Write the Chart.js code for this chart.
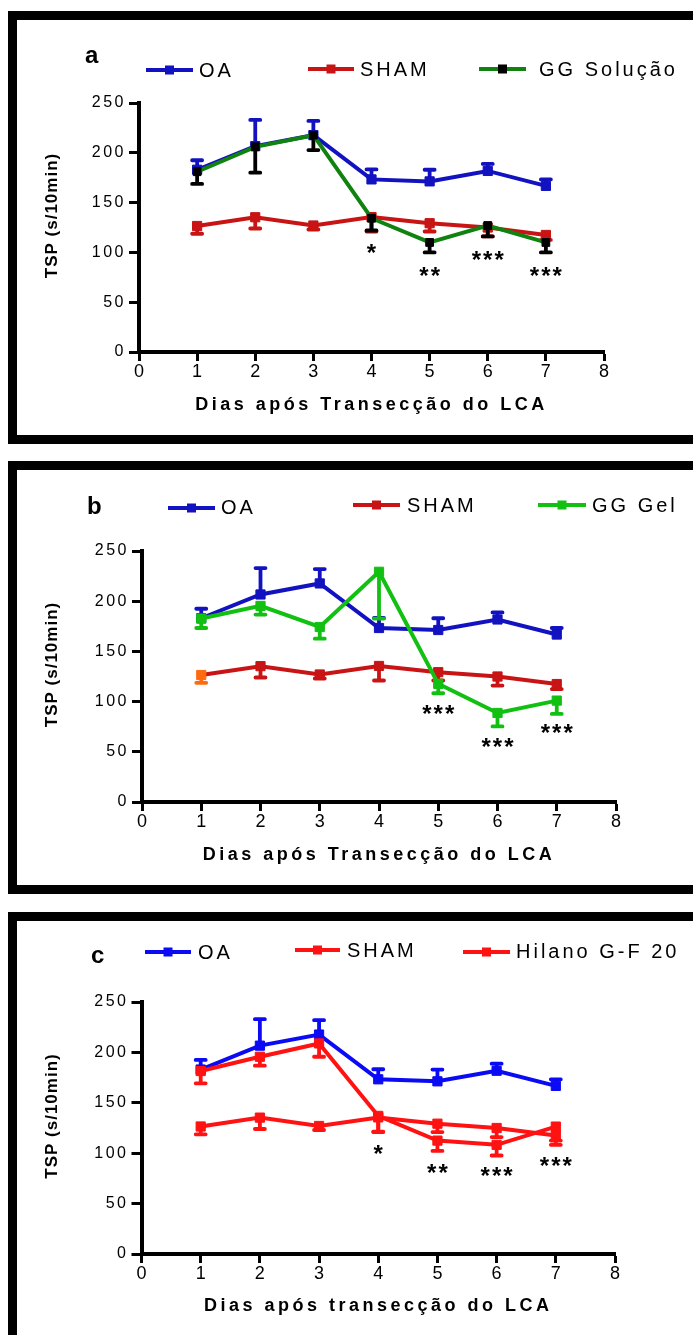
<!DOCTYPE html>
<html lang="pt">
<head>
<meta charset="utf-8">
<title>TSP (s/10min) - Dias após transecção do LCA</title>
<script src="https://cdn.jsdelivr.net/npm/chart.js@4.4.1/dist/chart.umd.min.js"></script>
<style>
  html, body { margin: 0; padding: 0; background: #fff; }
  body { width: 693px; height: 1335px; position: relative; overflow: hidden; }
  canvas { position: absolute; left: 0; }
  .moldura { position: absolute; left: 8px; width: 740px; border: 9px solid #000; box-sizing: border-box; pointer-events: none; z-index: 2; }
</style>
</head>
<body>
<canvas id="graficoA" width="693" height="414" style="top:20px;width:693px;height:414px"></canvas>
<canvas id="graficoB" width="693" height="414" style="top:470px;width:693px;height:414px"></canvas>
<canvas id="graficoC" width="693" height="413" style="top:922px;width:693px;height:413px"></canvas>
<div class="moldura" style="top:11px;height:433px"></div>
<div class="moldura" style="top:461px;height:433px"></div>
<div class="moldura" style="top:912px;height:500px"></div>

<script>
// dados (media e erro padrao em s/10min)
const dias = [1, 2, 3, 4, 5, 6, 7];
const ticksX = [0, 1, 2, 3, 4, 5, 6, 7, 8];
const ticksY = [0, 50, 100, 150, 200, 250];

const mediaOA = [183, 206.7, 217.7, 173.3, 171.3, 181.8, 166.8];
const erroOA = [9.5, 26.3, 14.3, 10, 11.7, 7, 6.5];

const mediaSHAM = [126.5, 135.3, 127, 135.5, 129.3, 125, 117.5];
const erroSHAM = [7.8, 11.3, 4, 14.5, 8.3, 9, 5];

const mediaGGSolucao = [181, 206, 217.7, 134.3, 110, 127, 110];
const erroGGSolucao = [12.3, 26, 15, 12.3, 10, 11, 10];

const mediaGGGel = [182.7, 195.3, 174.3, 229.3, 117.7, 88.7, 101];
const erroGGGel = [9.4, 8.6, 11.6, 46.6, 9.4, 13.4, 13.3];

const mediaHilano = [181.5, 195.7, 208.9, 137, 112.5, 108.3, 126.4];
const erroHilano = [12.2, 8.9, 13.2, 15.5, 10.2, 10.6, 18.1];

// asteriscos de significancia (dia, texto, altura no eixo y)
const diasSigA = [4, 5, 6, 7];
const rotulosSigA = ['*', '**', '***', '***'];
const alturaSigA = [104, 81, 97.7, 81];

const diasSigB = [5, 6, 7];
const rotulosSigB = ['***', '***', '***'];
const alturaSigB = [92.3, 59.3, 73.3];

const diasSigC = [4, 5, 6, 7];
const rotulosSigC = ['*', '**', '***', '***'];
const alturaSigC = [104, 85, 82.8, 92.7];

const nomesA = ['OA', 'SHAM', 'GG Solução'];
const nomesB = ['OA', 'SHAM', 'GG Gel'];
const nomesC = ['OA', 'SHAM', 'Hilano G-F 20'];

const tituloY = 'TSP (s/10min)';
const tituloXA = 'Dias após Transecção do LCA';
const tituloXB = 'Dias após Transecção do LCA';
const tituloXC = 'Dias após transecção do LCA';

const FONTE = "'Liberation Sans', Arial, Helvetica, sans-serif";
const FONTE_ESTREITA = "'Liberation Sans Narrow', 'Liberation Sans', Arial, sans-serif";

/**
 * desenha as barras de erro de cada serie logo antes da propria serie
 */
const pluginBarrasErro = {
    id: 'barrasErro',
    beforeDatasetDraw(chart, args) {
        const ds = chart.data.datasets[args.index];
        if (!ds.erros) return;
        const ctx = chart.ctx;
        const escalaY = chart.scales.y;
        ctx.save();
        ctx.lineWidth = 3.8;
        ctx.lineCap = 'round';
        args.meta.data.forEach((ponto, i) => {
            const fim = escalaY.getPixelForValue(ds.data[i].y + ds.direcaoErro * ds.erros[i]);
            ctx.strokeStyle = Array.isArray(ds.corErro) ? ds.corErro[i] : ds.corErro;
            ctx.beginPath();
            ctx.moveTo(ponto.x, ponto.y);
            ctx.lineTo(ponto.x, fim);
            ctx.moveTo(ponto.x - 5, fim);
            ctx.lineTo(ponto.x + 5, fim);
            ctx.stroke();
        });
        ctx.restore();
    }
};

const pluginAsteriscos = {
    id: 'asteriscos',
    afterDatasetsDraw(chart, args, op) {
        if (!op.dias) return;
        const ctx = chart.ctx;
        const { x, y } = chart.scales;
        ctx.save();
        ctx.font = 'bold 24px ' + FONTE;
        ctx.letterSpacing = '2px';
        ctx.fillStyle = '#000';
        ctx.textAlign = 'center';
        ctx.textBaseline = 'alphabetic';
        op.dias.forEach((d, i) => {
            // o centro do asterisco fica ~0.55em acima da linha de base
            ctx.fillText(op.rotulos[i], x.getPixelForValue(d) + 1, y.getPixelForValue(op.alturas[i]) + 13);
        });
        ctx.restore();
    }
};

/**
 * legenda de cada painel: letra do painel + linha com marcador + nome
 */
const pluginLegenda = {
    id: 'legendaPainel',
    afterDraw(chart, args, op) {
        if (!op.itens) return;
        const ctx = chart.ctx;
        ctx.save();
        ctx.textAlign = 'left';
        ctx.textBaseline = 'alphabetic';
        ctx.fillStyle = '#000';
        ctx.letterSpacing = '0px';
        ctx.font = 'bold 24px ' + FONTE;
        ctx.fillText(op.letra, op.letraX, op.letraY);
        ctx.font = '20px ' + FONTE;
        ctx.letterSpacing = '3px';
        chart.data.datasets.forEach((ds, i) => {
            const item = op.itens[i];
            ctx.strokeStyle = ds.borderColor;
            ctx.lineWidth = 4;
            ctx.beginPath();
            ctx.moveTo(item.x1, item.y);
            ctx.lineTo(item.x2, item.y);
            ctx.stroke();
            const meio = (item.x1 + item.x2) / 2;
            ctx.fillStyle = ds.corLegenda || ds.borderColor;
            ctx.fillRect(meio - 4.5, item.y - 4.5, 9, 9);
            ctx.fillStyle = '#000';
            ctx.fillText(ds.label, item.textoX, item.textoY);
        });
        ctx.restore();
    }
};

// espacamento entre letras nos titulos e rotulos dos eixos
function envolver(escala, metodo, espaco, deslocY) {
    if (escala['_orig_' + metodo]) return;
    const original = escala[metodo];
    escala['_orig_' + metodo] = original;
    escala[metodo] = function (...a) {
        const ctx = this.ctx;
        ctx.save();
        ctx.letterSpacing = espaco;
        ctx.translate(0, deslocY);
        original.apply(this, a);
        ctx.restore();
    };
}

const pluginEspacamento = {
    id: 'espacamento',
    afterLayout(chart) {
        envolver(chart.scales.x, 'drawTitle', '3.5px', 0);
        envolver(chart.scales.x, 'drawLabels', '0px', 0);
        envolver(chart.scales.y, 'drawTitle', '1px', -12);
        envolver(chart.scales.y, 'drawLabels', '2.5px', 0);
    }
};

function serie(rotulo, medias, erros, direcao, cor, extra) {
    return Object.assign({
        label: rotulo,
        data: dias.map((d, i) => ({ x: d, y: medias[i] })),
        erros: erros,
        direcaoErro: direcao,
        corErro: cor,
        borderColor: cor,
        backgroundColor: cor,
        pointBackgroundColor: cor,
        pointBorderColor: cor,
        borderWidth: 4,
        pointStyle: 'rect',
        pointRadius: 6.5,
        pointBorderWidth: 1,
        tension: 0,
        clip: false
    }, extra);
}

function criarPainel(id, p) {
    const canvas = document.getElementById(id);
    return new Chart(canvas, {
        type: 'line',
        data: { datasets: p.series },
        options: {
            responsive: false,
            animation: false,
            devicePixelRatio: 1,
            events: [],
            layout: { padding: { top: p.topo, right: 693 - p.direita, bottom: 0, left: 0 } },
            scales: {
                x: {
                    type: 'linear',
                    min: 0,
                    max: 8,
                    afterBuildTicks: (s) => { s.ticks = ticksX.map(v => ({ value: v })); },
                    afterFit: (s) => { s.height = canvas.height - 332; },
                    grid: { drawOnChartArea: false, drawTicks: true, tickLength: 9, tickWidth: 3, tickColor: '#000' },
                    border: { display: true, color: '#000', width: 4 },
                    ticks: { color: '#000', font: { family: FONTE_ESTREITA, size: 18 }, padding: 0, maxRotation: 0, autoSkip: false },
                    title: { display: true, text: p.tituloX, color: '#000', font: { family: FONTE, size: 18, weight: 'bold' }, padding: { top: 0, bottom: 18 } }
                },
                y: {
                    min: 0,
                    max: 250,
                    afterBuildTicks: (s) => { s.ticks = ticksY.map(v => ({ value: v })); },
                    afterFit: (s) => { s.width = p.esquerda; },
                    grid: { drawOnChartArea: false, drawTicks: true, tickLength: 10, tickWidth: 3, tickColor: '#000' },
                    border: { display: true, color: '#000', width: 4 },
                    ticks: { color: '#000', font: { family: FONTE, size: 16 }, padding: 3 },
                    title: { display: true, text: tituloY, color: '#000', font: { family: FONTE, size: 17, weight: 'bold' }, padding: { top: 42, bottom: 0 } }
                }
            },
            plugins: {
                legend: { display: false },
                tooltip: { enabled: false },
                asteriscos: { dias: p.sigDias, rotulos: p.sigRotulos, alturas: p.sigAlturas },
                legendaPainel: { letra: p.letra, letraX: p.letraX, letraY: p.letraY, itens: p.itens }
            }
        },
        plugins: [pluginEspacamento, pluginBarrasErro, pluginAsteriscos, pluginLegenda]
    });
}

const AZUL = '#1212c0';
const VERMELHO = '#c81414';
const VERDE_ESCURO = '#0f820f';
const VERDE = '#12c012';
const LARANJA = '#ff6a10';
const AZUL_VIVO = '#0a0af5';
const VERMELHO_VIVO = '#ff1212';

criarPainel('graficoA', {
    esquerda: 139, direita: 604, topo: 83,
    tituloX: tituloXA,
    letra: 'a', letraX: 85, letraY: 43,
    itens: [
        { x1: 146, x2: 193, y: 50, textoX: 199, textoY: 57 },
        { x1: 308, x2: 354, y: 49, textoX: 360, textoY: 56 },
        { x1: 479, x2: 526, y: 49, textoX: 539, textoY: 56 }
    ],
    sigDias: diasSigA, sigRotulos: rotulosSigA, sigAlturas: alturaSigA,
    series: [
        serie(nomesA[0], mediaOA, erroOA, 1, AZUL, { order: 3 }),
        serie(nomesA[1], mediaSHAM, erroSHAM, -1, VERMELHO, { order: 2 }),
        serie(nomesA[2], mediaGGSolucao, erroGGSolucao, -1, VERDE_ESCURO, {
            order: 1, pointBackgroundColor: '#000', pointBorderColor: '#000',
            corErro: '#000', corLegenda: '#000', pointRadius: 5.5
        })
    ]
});

criarPainel('graficoB', {
    esquerda: 142, direita: 616, topo: 81,
    tituloX: tituloXB,
    letra: 'b', letraX: 87, letraY: 44,
    itens: [
        { x1: 168, x2: 215, y: 38, textoX: 221, textoY: 44 },
        { x1: 353, x2: 400, y: 35, textoX: 407, textoY: 42 },
        { x1: 538, x2: 586, y: 35, textoX: 592, textoY: 42 }
    ],
    sigDias: diasSigB, sigRotulos: rotulosSigB, sigAlturas: alturaSigB,
    series: [
        serie(nomesB[0], mediaOA, erroOA, 1, AZUL, { order: 3 }),
        serie(nomesB[1], mediaSHAM, erroSHAM, -1, VERMELHO, {
            order: 2,
            pointBackgroundColor: dias.map((d, i) => i === 0 ? LARANJA : VERMELHO),
            pointBorderColor: dias.map((d, i) => i === 0 ? LARANJA : VERMELHO),
            corErro: dias.map((d, i) => i === 0 ? LARANJA : VERMELHO)
        }),
        serie(nomesB[2], mediaGGGel, erroGGGel, -1, VERDE, { order: 1 })
    ]
});

criarPainel('graficoC', {
    esquerda: 141.5, direita: 615, topo: 80,
    tituloX: tituloXC,
    letra: 'c', letraX: 91, letraY: 41,
    itens: [
        { x1: 145, x2: 191, y: 30, textoX: 198, textoY: 37 },
        { x1: 295, x2: 340, y: 28, textoX: 347, textoY: 35 },
        { x1: 463, x2: 510, y: 30, textoX: 516, textoY: 36 }
    ],
    sigDias: diasSigC, sigRotulos: rotulosSigC, sigAlturas: alturaSigC,
    series: [
        serie(nomesC[0], mediaOA, erroOA, 1, AZUL_VIVO, { order: 3 }),
        serie(nomesC[1], mediaSHAM, erroSHAM, -1, VERMELHO_VIVO, { order: 2 }),
        serie(nomesC[2], mediaHilano, erroHilano, -1, VERMELHO_VIVO, { order: 1 })
    ]
});
</script>
</body>
</html>
